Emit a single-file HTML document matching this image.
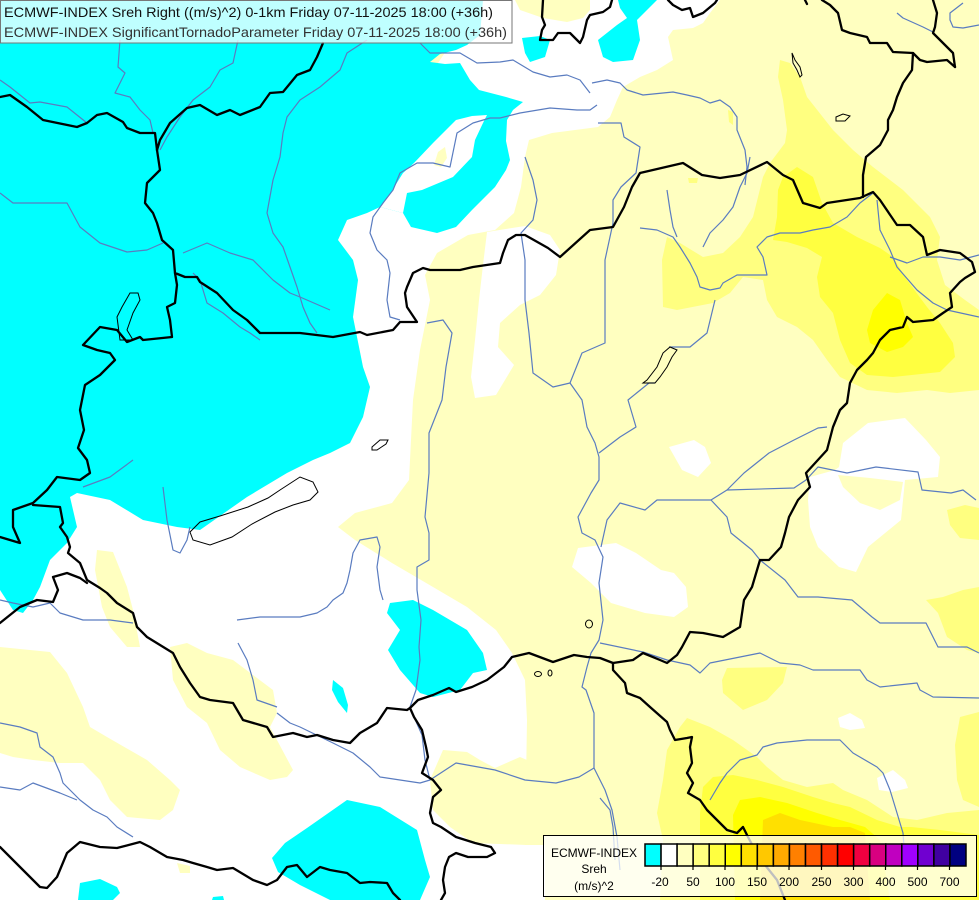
<!DOCTYPE html>
<html><head><meta charset="utf-8"><style>
html,body{margin:0;padding:0;background:#fff;}
svg{display:block;}
text{font-family:"Liberation Sans",sans-serif;}
</style></head><body>
<svg width="979" height="900" viewBox="0 0 979 900" xmlns="http://www.w3.org/2000/svg">
<rect x="0" y="0" width="979" height="900" fill="#ffffc0"/>
<!-- white regions -->
<path fill="#fff" d="M480,0 L720,0 710,13 703,23 693,28 673,30 668,37 673,60 657,70 640,77 623,87 617,100 610,117 598,127 552,133 529,140 525,157 521,187 514,213 495,230 468,235 437,253 400,260 360,250 380,150 440,60 Z"/>
<path fill="#fff" d="M0,455 L330,453 350,443 363,417 370,387 363,367 353,317 358,280 353,260 338,240 347,220 367,213 380,207 403,213 411,227 437,233 437,253 425,275 430,300 420,350 413,400 409,480 392,503 355,513 338,527 355,540 392,563 433,587 467,607 496,630 512,653 525,680 527,720 525,845 545,845 545,900 0,900 Z"/>
<path fill="#fff" d="M487,232 L525,226 550,235 560,250 556,275 540,295 520,305 500,323 498,347 514,365 496,395 475,398 471,377 475,340 479,300 483,265 Z"/>
<!-- pale patches on white -->
<path fill="#ffffc0" d="M515,0 L590,0 590,10 583,18 567,22 543,18 520,10 Z"/>
<path fill="#ffffc0" d="M97,550 L113,552 127,587 133,610 140,647 127,647 110,627 102,607 95,570 Z"/>
<path fill="#ffffc0" d="M170,647 L187,643 207,653 233,660 273,690 277,713 270,727 293,770 287,777 270,780 240,767 220,750 207,723 187,707 173,680 Z"/>
<path fill="#ffffc0" d="M0,647 L50,652 67,673 83,707 90,727 107,737 147,760 170,780 180,790 173,810 160,820 127,817 110,800 100,780 83,763 60,763 33,760 13,757 0,753 Z"/>
<path fill="#ffffc0" d="M430,780 L443,750 467,752 480,760 495,768 520,757 527,760 527,845 473,843 450,827 433,810 Z"/>
<path fill="#ffffc0" d="M177,863 L190,866 190,873 180,873 Z"/>
<!-- white patches in east -->
<path fill="#fff" d="M843,443 L868,423 905,418 926,440 940,457 938,477 905,480 901,520 868,547 856,572 839,567 818,547 810,527 808,500 810,477 835,470 839,467 Z"/>
<path fill="#ffffc0" d="M838,475 L870,478 903,482 900,500 880,510 860,503 843,487 Z"/>
<path fill="#fff" d="M669,447 L694,440 705,447 711,463 698,477 682,470 Z"/>
<path fill="#fff" d="M578,548 L616,543 636,553 661,570 674,573 686,587 688,607 674,617 645,613 611,603 591,583 572,567 Z"/>
<path fill="#fff" d="M838,718 L850,713 862,720 865,728 850,730 840,727 Z"/>
<path fill="#fff" d="M877,778 L893,770 905,780 908,788 892,792 879,790 Z"/>
<!-- yellows -->
<g fill="#ffff80">
<path d="M780,60 L790,63 800,77 807,97 833,130 853,150 873,167 903,190 930,217 940,237 937,260 945,285 965,300 979,310 979,390 950,393 927,390 897,393 867,390 840,377 827,360 813,340 797,327 777,317 767,300 763,280 743,277 730,293 713,303 677,310 663,307 662,260 667,237 680,243 703,257 723,253 740,237 753,217 763,177 770,163 785,143 787,130 783,100 778,77 Z"/>
<path d="M688,178 L698,178 697,183 689,183 Z"/>
<path d="M728,110 L733,112 733,125 729,122 Z"/>
<path d="M947,510 L965,505 979,508 979,540 960,538 950,525 Z"/>
<path d="M926,600 L943,597 963,590 979,587 979,653 967,650 947,637 938,613 Z"/>
<path d="M727,668 L787,667 783,683 767,700 743,710 723,693 722,680 Z"/>
<path d="M960,717 L979,712 979,807 963,800 957,780 955,745 Z"/>
<path d="M687,718 L710,727 733,740 757,757 767,767 783,780 807,787 833,783 843,790 867,800 893,817 917,820 947,813 979,810 979,900 660,900 663,840 657,813 663,780 667,750 680,727 Z"/>
</g>
<g fill="#ffff40">
<path d="M797,167 L813,177 822,203 833,223 857,237 880,248 893,257 907,280 927,307 940,323 953,343 955,357 940,372 893,377 867,375 850,363 840,340 833,313 820,297 817,277 822,257 807,248 787,242 773,240 777,217 778,190 783,177 Z"/>
<path d="M713,777 L733,775 757,780 783,787 813,797 833,803 850,807 877,820 900,827 911,827 940,830 979,835 979,900 700,900 700,813 703,787 Z"/>
</g>
<g fill="#ffff00">
<path d="M887,293 L900,300 907,323 913,337 903,347 887,352 870,343 867,330 873,310 Z"/>
<path d="M740,800 L760,797 787,803 817,813 840,820 865,827 880,840 890,900 735,900 733,815 Z"/>
</g>
<path fill="#ffe000" d="M763,820 L780,813 800,820 833,827 850,827 865,833 870,900 760,900 Z"/>
<!-- cyan -->
<g fill="#00ffff">
<path d="M0,0 L483,0 480,35 467,45 456,50 440,54 430,62 445,64 460,63 470,80 479,90 506,97 523,102 513,110 507,120 506,141 510,160 506,170 495,187 472,210 456,227 437,233 411,227 403,213 380,207 367,213 347,220 338,240 353,260 358,280 353,317 363,367 370,387 363,417 350,443 330,453 313,460 287,473 247,497 200,530 177,527 143,520 110,500 77,493 70,497 77,527 67,543 50,560 40,587 33,600 23,613 13,610 0,590 Z"/>
<path d="M522,38 L540,36 550,40 545,57 530,62 525,53 Z"/>
<path d="M618,0 L657,0 647,10 637,20 640,40 633,60 613,62 603,57 598,40 617,25 627,18 620,8 Z"/>
<path d="M390,603 L413,600 433,610 467,630 483,653 487,670 473,673 460,690 433,697 420,693 400,670 388,650 400,630 387,613 Z"/>
<path d="M333,680 L343,688 348,705 347,713 338,702 332,690 Z"/>
<path d="M347,800 L380,807 417,830 425,860 430,877 420,900 330,900 300,885 278,872 272,858 285,843 307,828 Z"/>
<path d="M80,883 L100,879 117,887 120,893 113,900 78,900 Z"/>
<path d="M213,897 L223,896 224,900 212,900 Z"/>
</g>
<path fill="#fff" d="M380,207 L388,197 403,173 414,163 433,143 456,120 472,116 487,115 483,123 475,140 472,157 453,177 422,190 407,193 403,213 Z"/>
<path fill="#ffffc0" d="M434,165 L438,152 445,147 447,158 441,167 Z"/>
<!-- rivers -->
<g fill="none" stroke="#5a7cc0" stroke-width="1.2" stroke-linejoin="round">
<polyline points="120,40 118,67 125,73 115,93 130,97 140,110 150,120 153,133"/>
<polyline points="238,40 233,63 220,70 210,87 193,100 180,117 167,137 160,150"/>
<polyline points="367,40 347,53 340,70 320,87 300,100 287,117 283,133 280,157 273,180 267,213 273,233 283,247 290,267 297,287 303,307 310,323 317,333"/>
<polyline points="0,193 13,203 67,203 80,227 100,243 127,252 147,250 163,243"/>
<polyline points="0,80 10,87 30,103 40,102 67,107 87,123"/>
<polyline points="183,253 207,243 230,253 253,260 273,280 290,293 300,297 330,310"/>
<polyline points="193,273 200,280 207,303 223,313 240,327 250,333 260,340"/>
<polyline points="420,43 430,53 460,53 477,63 500,62 513,60 533,72 550,77 567,75 580,80 590,93"/>
<polyline points="592,83 607,80 620,83 627,90 643,95 673,92 687,95 700,98 710,103 720,100 730,107 737,117 737,130 745,150 747,167 745,185"/>
<polyline points="597,105 590,110 577,110 550,108 520,113 500,118 490,118 473,123 457,133 450,167 433,163 417,163 400,173 393,190 383,203 373,217 370,233 377,250 387,260 390,273 387,300 390,317 400,320"/>
<polyline points="427,323 443,320 452,333 446,367 442,400 429,433 429,473 425,517 429,533 429,560 417,567 417,590 421,620 419,647 420,660 416,690 410,707 414,717 422,735 425,760 430,780 456,763 495,770 525,780 556,783 579,777 594,768 605,790 612,810 617,837 620,870"/>
<polyline points="525,157 533,180 537,200 533,220 521,233 525,260 525,300 529,333 533,373 553,387 570,383 582,400 587,427 595,443 599,457 599,480 591,493 578,517 582,533 595,540 603,557 599,583 603,620 599,640 591,653 587,667 582,687 586,690 594,713 594,768"/>
<polyline points="598,123 621,123 624,137 640,147 636,173 621,187 613,200 613,223 605,260 605,300 605,343 582,353 570,383"/>
<polyline points="715,300 707,333 690,347 669,347"/>
<polyline points="655,383 649,383 628,400 636,427 620,437 599,453"/>
<polyline points="640,228 657,230 673,237 680,247 690,263 697,277 700,287 710,290 720,288 723,283 737,275 767,275 763,257 757,247 767,237 780,233 800,233 813,230 830,227 847,217 860,203 873,193"/>
<polyline points="667,190 670,210 673,227 677,237"/>
<polyline points="703,247 710,233 723,220 733,207 740,187 747,173 750,157"/>
<polyline points="877,200 880,230 890,250 897,267 917,290 933,303 947,310 979,317"/>
<polyline points="890,257 907,263 923,257 940,257 960,260 979,255"/>
<polyline points="711,500 682,500 657,500 645,510 620,503 607,520 601,547"/>
<polyline points="711,500 727,490 744,473 769,453 794,440 818,428 827,427"/>
<polyline points="727,490 794,488 806,480 818,467 847,473 876,467 918,472 922,490 951,493 963,490 976,500"/>
<polyline points="711,500 727,517 731,533 752,550 760,560 785,580 798,597 818,597 852,600 872,617 880,623 926,623 938,647 967,647 979,653"/>
<polyline points="600,643 643,652 667,660 690,665 700,673 710,663 760,653 780,663 800,665 813,670 860,670 867,680 880,687 917,683 920,690 933,697 979,698"/>
<polyline points="710,800 720,783 727,773 740,760 757,755 763,747 777,743 807,740 840,740 853,753 877,767 883,773 890,790 897,813 903,833 905,860"/>
<polyline points="600,798 610,810 613,827 615,860"/>
<polyline points="0,723 20,727 37,733 40,747 53,757 60,773 63,783 80,800 93,810 107,817 117,827 133,837"/>
<polyline points="0,787 20,790 33,783 60,793 77,800"/>
<polyline points="277,713 290,723 300,727 333,743 353,753 370,767 380,777 400,780 420,783 430,780"/>
<polyline points="237,620 260,617 283,617 300,617 317,613 327,607 333,600 343,593 347,583 350,570 353,553 360,540 377,537 380,547 377,567 380,590 383,600"/>
<polyline points="238,643 247,660 253,680 257,700 277,707"/>
<polyline points="0,600 13,603 33,607 50,603 60,613 83,620 110,620 133,623"/>
<polyline points="133,460 110,477 83,487"/>
<polyline points="163,487 167,520 173,550 180,553 187,540 190,527"/>
<polyline points="897,13 903,18 923,27 933,32"/>
<polyline points="963,3 950,13 950,20 953,27 963,28 979,25"/>
</g>
<!-- borders -->
<g fill="none" stroke="#000" stroke-width="2.3" stroke-linejoin="round" stroke-linecap="round">
<polyline points="0,97 10,95 27,107 43,120 77,127 87,123 97,115 107,113 123,122 127,128 140,133 155,133 157,150"/>
<polyline points="157,150 160,140 170,123 187,108 200,105 217,115 230,110 240,115 260,107 270,93 283,92 297,75 310,70 317,57 323,43"/>
<polyline points="157,150 160,170 147,183 145,203 153,213 157,223 162,240 173,250 175,273 185,277 197,277 200,282 217,293 233,310 247,320 260,333 300,333 333,337 360,332 367,335 393,330 400,322 417,322 407,307 405,293 407,287 413,273 423,268 430,270 460,270 473,267 500,263 503,253 508,240 516,235 525,235 548,248 560,257 590,230 613,227 624,207 632,187 640,173 683,163 702,175 720,178 740,175 767,162 783,175 793,180 803,203 820,208 827,203 860,198 873,192 880,200 897,225 910,225 923,237 927,255 940,250 960,253 972,262 975,272 965,278 960,282 950,293 952,307 943,313 933,320 913,322 907,317 903,327 890,330 880,340 873,353 867,360 857,370 850,383 847,403 840,410 833,427 827,450 806,473 810,487 798,500 789,517 785,533 781,547 769,560 760,560 752,587 744,600 740,627 723,637 703,633 690,632 682,647 677,655 667,663 660,660 643,653 633,660 613,663 600,658 587,657 574,655 553,662 529,653 512,657 504,667 487,680 472,687 456,692 449,688 433,695 418,700 410,708 407,710 387,708 377,723 360,733 350,743 333,740 317,735 307,737 293,733 273,737 267,727 243,720 233,703 210,700 200,697 190,683 180,667 173,653 147,637 137,627 133,613 117,603 107,593 100,588 87,580 80,563 68,553 70,547 67,537 60,527 63,523 60,507 33,505"/>
<polyline points="175,273 177,285 175,303 167,307 170,320 172,337 143,340 140,337 127,342 117,330 100,327 83,345 97,350 110,353 115,360 100,375 85,385 80,410 84,430 78,448 87,460 90,473 80,480 57,477 47,490 33,503 13,510 13,527 20,543 0,537"/>
<polyline points="0,623 20,607 37,600 53,602 58,590 53,577 67,573 80,578 87,583"/>
<polyline points="410,708 414,717 422,730 426,747 428,757 422,773 433,780 441,790 433,797 430,813 433,823 441,827 456,837 475,843 491,847 495,853 487,857 468,857 456,853 449,857 445,867 443,880 445,893 441,900"/>
<polyline points="0,847 20,867 40,887 47,888 57,877 67,853 80,842 100,847 117,848 140,842 150,847 167,857 183,860 193,863 207,867 217,870 233,868 253,880 267,885 277,880 287,867 297,865 307,877 320,867 330,870 347,873 360,883 370,882 387,883 393,893 400,900"/>
<polyline points="613,663 613,670 625,683 627,693 640,698 650,707 667,722 670,730 675,740 687,738 692,737 690,747 692,763 687,773 693,783 688,793 700,800 707,810 717,820 727,830 737,833 743,827 748,837 755,850 765,865 777,880 785,900"/>
<polyline points="543,0 542,17 545,25 542,30 540,40 553,40 558,33 570,33 580,43 583,37 587,20 590,15 603,12 610,7 612,0"/>
<polyline points="668,0 673,5 682,10 690,8 693,17 703,13 715,3 717,0"/>
<polyline points="805,0 807,4"/>
<polyline points="822,0 830,5 838,13 842,30 850,33 867,37 870,43 887,43 893,52 913,53 920,60 927,62 947,60 955,67"/>
<polyline points="933,0 937,13 935,27 933,33 940,40 947,47 953,53 955,67"/>
<polyline points="913,53 912,70 903,83 897,97 893,110 888,120 888,130 880,145 866,157 863,175 863,197"/>
</g>
<g fill="none" stroke="#000" stroke-width="1">
<path d="M190,532 L200,522 220,516 248,507 268,498 280,490 300,477 313,482 318,492 310,500 293,505 275,512 252,524 232,537 210,545 193,540 Z"/>
<path d="M122,307 L130,293 138,293 140,300 133,313 127,330 133,340 120,340 117,317 Z"/>
<path d="M792,53 L795,60 800,67 802,75 800,77 797,70 793,63 Z"/>
<path d="M836,117 L843,114 850,116 845,121 836,121 Z"/>
<path d="M670,347 L677,350 672,357 667,367 660,377 655,383 643,383 647,380 657,367 663,353 Z"/>
<path d="M372,447 L380,440 388,440 386,444 377,450 372,450 Z"/>
<ellipse cx="589" cy="624" rx="3.5" ry="4"/>
<ellipse cx="538" cy="674" rx="3.5" ry="2.5"/>
<ellipse cx="550" cy="673" rx="2" ry="3"/>
</g>
<!-- title box -->
<rect x="0.5" y="0.5" width="511.5" height="42.5" fill="rgba(255,255,255,0.75)" stroke="#777" stroke-width="1"/>
<text x="4" y="17" font-size="14" fill="#111" textLength="489" lengthAdjust="spacingAndGlyphs">ECMWF-INDEX Sreh Right ((m/s)^2) 0-1km Friday 07-11-2025 18:00 (+36h)</text>
<text x="4" y="37" font-size="14" fill="#333" textLength="503" lengthAdjust="spacingAndGlyphs">ECMWF-INDEX SignificantTornadoParameter Friday 07-11-2025 18:00 (+36h)</text>
<!-- legend -->
<rect x="543.5" y="835.5" width="433" height="61" fill="rgba(255,255,255,0.75)" stroke="#000" stroke-width="1"/>
<text x="594" y="857" font-size="12" text-anchor="middle" fill="#000">ECMWF-INDEX</text>
<text x="594" y="873" font-size="12" text-anchor="middle" fill="#000">Sreh</text>
<text x="594" y="890" font-size="12" text-anchor="middle" fill="#000">(m/s)^2</text>
<g stroke="#000" stroke-width="1.5">
<rect x="645" y="844" width="16.05" height="22" fill="#00ffff"/>
<rect x="661.05" y="844" width="16.05" height="22" fill="#ffffff"/>
<rect x="677.1" y="844" width="16.05" height="22" fill="#ffffc0"/>
<rect x="693.15" y="844" width="16.05" height="22" fill="#ffff80"/>
<rect x="709.2" y="844" width="16.05" height="22" fill="#ffff40"/>
<rect x="725.25" y="844" width="16.05" height="22" fill="#ffff00"/>
<rect x="741.3" y="844" width="16.05" height="22" fill="#ffe000"/>
<rect x="757.35" y="844" width="16.05" height="22" fill="#ffc800"/>
<rect x="773.4" y="844" width="16.05" height="22" fill="#ffaa00"/>
<rect x="789.45" y="844" width="16.05" height="22" fill="#ff8000"/>
<rect x="805.5" y="844" width="16.05" height="22" fill="#ff5a00"/>
<rect x="821.55" y="844" width="16.05" height="22" fill="#ff3000"/>
<rect x="837.6" y="844" width="16.05" height="22" fill="#ff0000"/>
<rect x="853.65" y="844" width="16.05" height="22" fill="#f00040"/>
<rect x="869.7" y="844" width="16.05" height="22" fill="#d80080"/>
<rect x="885.75" y="844" width="16.05" height="22" fill="#c000c0"/>
<rect x="901.8" y="844" width="16.05" height="22" fill="#a000ff"/>
<rect x="917.85" y="844" width="16.05" height="22" fill="#7000d0"/>
<rect x="933.9" y="844" width="16.05" height="22" fill="#4000a0"/>
<rect x="949.95" y="844" width="16.05" height="22" fill="#000080"/>
</g>
<g stroke="#000" stroke-width="1.2">
<line x1="661" y1="866" x2="661" y2="870"/><line x1="693" y1="866" x2="693" y2="870"/>
<line x1="725" y1="866" x2="725" y2="870"/><line x1="757" y1="866" x2="757" y2="870"/>
<line x1="789" y1="866" x2="789" y2="870"/><line x1="821.5" y1="866" x2="821.5" y2="870"/>
<line x1="853.5" y1="866" x2="853.5" y2="870"/><line x1="885.5" y1="866" x2="885.5" y2="870"/>
<line x1="917.5" y1="866" x2="917.5" y2="870"/><line x1="949.5" y1="866" x2="949.5" y2="870"/>
</g>
<g font-size="12" text-anchor="middle" fill="#000">
<text x="660" y="886">-20</text><text x="693" y="886">50</text><text x="725" y="886">100</text>
<text x="757" y="886">150</text><text x="789" y="886">200</text><text x="821.5" y="886">250</text>
<text x="853.5" y="886">300</text><text x="885.5" y="886">400</text><text x="917.5" y="886">500</text>
<text x="949.5" y="886">700</text>
</g>
</svg>
</body></html>
